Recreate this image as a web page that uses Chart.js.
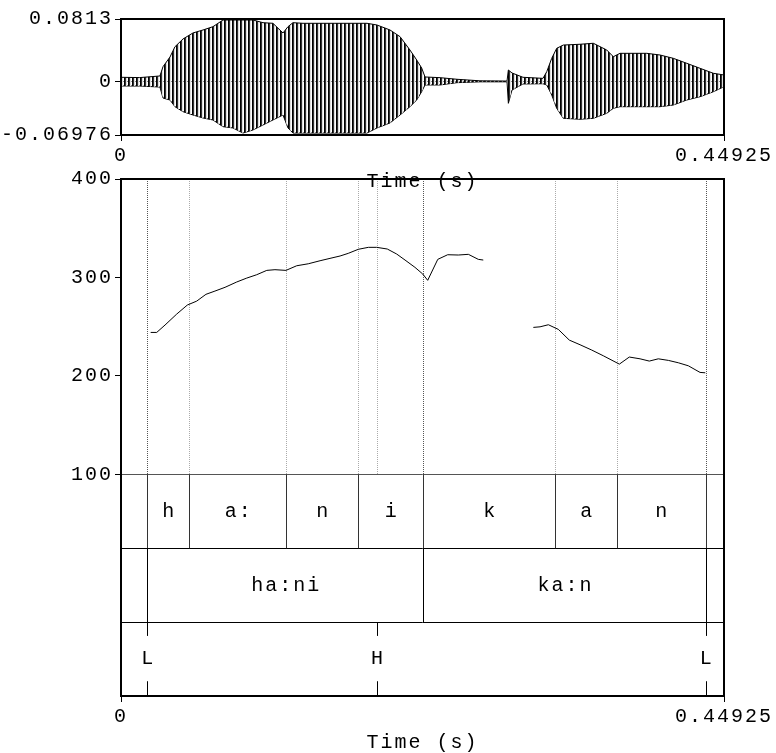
<!DOCTYPE html>
<html>
<head>
<meta charset="utf-8">
<script src="https://cdn.jsdelivr.net/npm/chart.js@4"></script>
<style>
  html, body { margin: 0; padding: 0; background: #fff; overflow: hidden; }
  #wrap { position: relative; width: 776px; height: 753px; }
  canvas { position: absolute; left: 0; top: 0; }
</style>
</head>
<body>
<div id="wrap">
  <canvas id="wave" width="776" height="753"></canvas>
  <canvas id="pitch" width="776" height="753"></canvas>
</div>
<script>
// time axis (s)
const tMax = 0.44925;
const timeTicks = [0, 0.44925];

// waveform envelope (amplitude)
const waveTicks = [-0.06976, 0, 0.0813];
const waveTime = [0, 0.014, 0.029, 0.0313, 0.0365, 0.0402, 0.0462, 0.0536, 0.0611, 0.0685, 0.0760, 0.0834, 0.0909, 0.0983, 0.1058, 0.1132, 0.1207, 0.1244, 0.1281, 0.1356, 0.1594, 0.1833, 0.1907, 0.2004, 0.2079, 0.2153, 0.2203, 0.2240, 0.2265, 0.2377, 0.2503, 0.2675, 0.2876, 0.2886, 0.2913, 0.2995, 0.3144, 0.3172, 0.3209, 0.3246, 0.3295, 0.3420, 0.3519, 0.3619, 0.3668, 0.3718, 0.3917, 0.4016, 0.4115, 0.4215, 0.4314, 0.4413, 0.44925];
const waveUpper = [0.0054, 0.005, 0.0071, 0.0192, 0.0318, 0.0452, 0.0553, 0.0631, 0.0670, 0.0713, 0.0800, 0.0800, 0.0800, 0.0800, 0.0765, 0.0757, 0.0631, 0.0713, 0.0765, 0.0757, 0.0757, 0.0757, 0.0735, 0.0670, 0.0583, 0.0409, 0.0279, 0.0175, 0.0058, 0.0049, 0.0028, 0.0008, 0.0005, 0.0149, 0.0110, 0.0054, 0.0040, 0.0127, 0.0301, 0.0431, 0.0474, 0.0484, 0.0497, 0.0409, 0.0322, 0.0366, 0.0366, 0.0344, 0.0301, 0.0236, 0.0171, 0.0106, 0.0084];
const waveLower = [-0.0059, -0.006, -0.0073, -0.0216, -0.0242, -0.0329, -0.0394, -0.0437, -0.0476, -0.0502, -0.0589, -0.0606, -0.0672, -0.0632, -0.0567, -0.0502, -0.0437, -0.0606, -0.0672, -0.0672, -0.0672, -0.0672, -0.0606, -0.0541, -0.0437, -0.0329, -0.0242, -0.0134, -0.0046, -0.0046, -0.0016, -0.0005, -0.0005, -0.0285, -0.0112, -0.0033, -0.0030, -0.0046, -0.0177, -0.0350, -0.0480, -0.0493, -0.0480, -0.0415, -0.0350, -0.0329, -0.0329, -0.0329, -0.0307, -0.0242, -0.0199, -0.0134, -0.0069];

// pitch contour (Hz), two voiced stretches
const pitchTicks = [100, 200, 300, 400];
const pitchTimeA = [0.0221, 0.0266, 0.0328, 0.0415, 0.0494, 0.0564, 0.0633, 0.0700, 0.0775, 0.0862, 0.0937, 0.1011, 0.1086, 0.1147, 0.1229, 0.1309, 0.1395, 0.1483, 0.1557, 0.1632, 0.1693, 0.1768, 0.1843, 0.1905, 0.1984, 0.2054, 0.2116, 0.2190, 0.2248, 0.2285, 0.2360, 0.2434, 0.2513, 0.2588, 0.2662, 0.2699];
const pitchHzA = [244.2, 244.2, 251.7, 262.8, 272, 276, 282.9, 286.2, 290, 295.4, 299.4, 302.8, 307.2, 307.9, 307.2, 311.9, 313.9, 317, 319.4, 321.8, 324.5, 328.6, 330.6, 330.6, 328.9, 323.8, 317.7, 310.3, 303.5, 297.1, 318.4, 323.1, 322.8, 323.5, 318.4, 317.7];
const pitchTimeB = [0.3072, 0.3122, 0.3184, 0.3258, 0.3340, 0.3420, 0.3507, 0.3593, 0.3713, 0.3787, 0.3867, 0.3936, 0.4003, 0.4078, 0.4152, 0.4227, 0.4314, 0.4353];
const pitchHzB = [249.3, 249.9, 252, 247.3, 236.4, 231.7, 226.3, 220.5, 212, 219.2, 217.4, 215.1, 217.4, 215.8, 213.4, 210.3, 203.6, 203.2];

// text grid tiers
const phoneBounds = [0.0196, 0.0507, 0.1232, 0.1768, 0.2252, 0.3236, 0.3695, 0.4356];
const phoneLabels = ["h", "a:", "n", "i", "k", "a", "n"];
const wordBounds = [0.0196, 0.2252, 0.4356];
const wordLabels = ["ha:ni", "ka:n"];
const toneTimes = [0.0196, 0.1907, 0.4356];
const toneLabels = ["L", "H", "L"];

// tiers sit below 100 Hz on the pitch scale, 75 units each
const tierEdges = [100, 25, -50, -125];

const font = { family: "'Liberation Mono', 'DejaVu Sans Mono', monospace", size: 20 };
const fontStr = "20px 'Liberation Mono', 'DejaVu Sans Mono', monospace";

const spacing = {
  id: "spacing",
  beforeDraw(chart) { chart.ctx.letterSpacing = "2px"; }
};

function frame(chart) {
  const { ctx, chartArea: a } = chart;
  ctx.save();
  ctx.strokeStyle = "#000";
  ctx.lineWidth = 2;
  ctx.strokeRect(a.left, a.top, a.right - a.left, a.bottom - a.top);
  ctx.restore();
}

function timeAxis(height, titlePad) {
  return {
    type: "linear",
    min: 0,
    max: tMax,
    afterBuildTicks: s => { s.ticks = timeTicks.map(v => ({ value: v })); },
    afterFit: s => { s.height = height; },
    border: { display: false },
    grid: { drawOnChartArea: false, tickLength: 6, color: "#000" },
    ticks: { font, color: "#000", padding: 3, maxRotation: 0, autoSkip: false, callback: v => String(v) },
    title: { display: true, text: "Time (s)", font, color: "#000", padding: { top: 0, bottom: titlePad } }
  };
}

// ---- waveform ----
const pc = document.createElement("canvas");
pc.width = 4;
pc.height = 1;
const pctx = pc.getContext("2d");
pctx.fillStyle = "#000";
pctx.fillRect(0, 0, 1, 1);
pctx.fillStyle = "#333";
pctx.fillRect(1, 0, 1, 1);
pctx.fillStyle = "#ddd";
pctx.fillRect(2, 0, 1, 1);
const waveCanvas = document.getElementById("wave");
const stripes = waveCanvas.getContext("2d").createPattern(pc, "repeat");

const zeroLine = {
  id: "zeroLine",
  beforeDatasetsDraw(chart) {
    const { ctx, chartArea: a, scales: { y } } = chart;
    const py = Math.round(y.getPixelForValue(0)) + 0.5;
    ctx.save();
    ctx.strokeStyle = "#888";
    ctx.lineWidth = 1;
    ctx.setLineDash([1, 1]);
    ctx.beginPath();
    ctx.moveTo(a.left, py);
    ctx.lineTo(a.right, py);
    ctx.stroke();
    ctx.restore();
  },
  afterDraw: frame
};

new Chart(waveCanvas, {
  type: "line",
  data: {
    datasets: [
      {
        data: waveTime.map((t, i) => ({ x: t, y: waveUpper[i] })),
        borderColor: "#000",
        borderWidth: 1,
        backgroundColor: stripes,
        fill: "+1",
        pointRadius: 0,
        tension: 0
      },
      {
        data: waveTime.map((t, i) => ({ x: t, y: waveLower[i] })),
        borderColor: "#000",
        borderWidth: 1,
        fill: false,
        pointRadius: 0,
        tension: 0
      }
    ]
  },
  options: {
    responsive: false,
    animation: false,
    layout: { padding: { left: 0, right: 52, top: 19, bottom: 559 } },
    plugins: { legend: { display: false }, tooltip: { enabled: false } },
    scales: {
      x: timeAxis(59, 0),
      y: {
        min: -0.06976,
        max: 0.0813,
        afterBuildTicks: s => { s.ticks = waveTicks.map(v => ({ value: v })); },
        afterFit: s => { s.width = 121; },
        border: { display: false },
        grid: { drawOnChartArea: false, tickLength: 6, color: "#000" },
        ticks: { font, color: "#000", padding: 2, callback: v => String(v) }
      }
    }
  },
  plugins: [spacing, zeroLine]
});

// ---- pitch + text grid ----
const textGrid = {
  id: "textGrid",
  beforeDatasetsDraw(chart) {
    const { ctx, chartArea: a, scales: { x, y } } = chart;
    const yTop = a.top;
    const yBase = y.getPixelForValue(tierEdges[0]);
    ctx.save();
    ctx.lineWidth = 1;
    ctx.setLineDash([1, 1]);
    // dotted guide for every boundary / point, word boundaries darker
    [[phoneBounds, "#aaa"], [toneTimes, "#aaa"], [wordBounds, "#555"]].forEach(([list, color]) => {
      ctx.strokeStyle = color;
      list.forEach(t => {
        const px = Math.round(x.getPixelForValue(t)) + 0.5;
        ctx.beginPath();
        ctx.moveTo(px, yTop);
        ctx.lineTo(px, yBase);
        ctx.stroke();
      });
    });
    ctx.restore();
  },
  afterDraw(chart) {
    const { ctx, chartArea: a, scales: { x, y } } = chart;
    ctx.save();
    ctx.lineWidth = 1;
    // tier separators
    tierEdges.slice(0, 3).forEach((v, i) => {
      const py = Math.round(y.getPixelForValue(v)) + 0.5;
      ctx.strokeStyle = i === 0 ? "#555" : "#000";
      ctx.beginPath();
      ctx.moveTo(a.left, py);
      ctx.lineTo(a.right, py);
      ctx.stroke();
    });
    const vline = (t, v0, v1, color) => {
      const px = Math.round(x.getPixelForValue(t)) + 0.5;
      ctx.strokeStyle = color;
      ctx.beginPath();
      ctx.moveTo(px, y.getPixelForValue(v0));
      ctx.lineTo(px, y.getPixelForValue(v1));
      ctx.stroke();
    };
    phoneBounds.forEach(t => vline(t, tierEdges[0], tierEdges[1], "#333"));
    wordBounds.forEach(t => vline(t, tierEdges[1], tierEdges[2], "#000"));
    toneTimes.forEach(t => {
      vline(t, tierEdges[2], tierEdges[2] - 14, "#000");
      vline(t, tierEdges[3] + 15, tierEdges[3], "#000");
    });
    // labels
    ctx.fillStyle = "#000";
    ctx.font = fontStr;
    ctx.textAlign = "center";
    ctx.textBaseline = "middle";
    const label = (text, t, v) => {
      ctx.fillText(text, x.getPixelForValue(t) + 1, y.getPixelForValue(v));
    };
    phoneLabels.forEach((s, i) => label(s, (phoneBounds[i] + phoneBounds[i + 1]) / 2, (tierEdges[0] + tierEdges[1]) / 2));
    wordLabels.forEach((s, i) => label(s, (wordBounds[i] + wordBounds[i + 1]) / 2, (tierEdges[1] + tierEdges[2]) / 2));
    toneLabels.forEach((s, i) => label(s, toneTimes[i], (tierEdges[2] + tierEdges[3]) / 2));
    ctx.restore();
    frame(chart);
  }
};

new Chart(document.getElementById("pitch"), {
  type: "line",
  data: {
    datasets: [
      {
        data: pitchTimeA.map((t, i) => ({ x: t, y: pitchHzA[i] })),
        borderColor: "#000",
        borderWidth: 1,
        fill: false,
        pointRadius: 0,
        tension: 0
      },
      {
        data: pitchTimeB.map((t, i) => ({ x: t, y: pitchHzB[i] })),
        borderColor: "#000",
        borderWidth: 1,
        fill: false,
        pointRadius: 0,
        tension: 0
      }
    ]
  },
  options: {
    responsive: false,
    animation: false,
    layout: { padding: { left: 0, right: 52, top: 179, bottom: 0 } },
    plugins: { legend: { display: false }, tooltip: { enabled: false } },
    scales: {
      x: timeAxis(57, -2),
      y: {
        min: tierEdges[3],
        max: 400,
        afterBuildTicks: s => { s.ticks = pitchTicks.map(v => ({ value: v })); },
        afterFit: s => { s.width = 121; },
        border: { display: false },
        grid: { drawOnChartArea: false, tickLength: 6, color: "#000" },
        ticks: { font, color: "#000", padding: 2 }
      }
    }
  },
  plugins: [spacing, textGrid]
});
</script>
</body>
</html>
